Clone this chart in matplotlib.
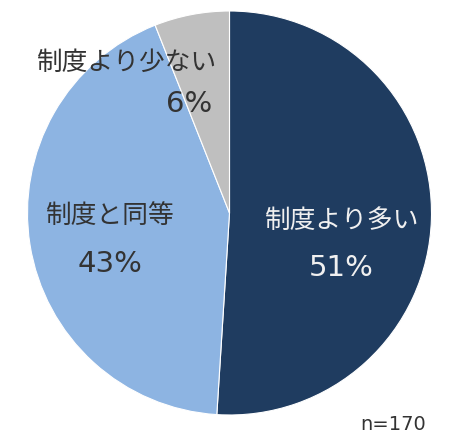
import matplotlib.pyplot as plt

plt.rcParams['font.family'] = ['Noto Sans CJK JP', 'DejaVu Sans']

labels = ["制度より多い", "制度と同等", "制度より少ない"]
shares = [51, 43, 6]
colors = ["#1F3C60", "#8DB4E2", "#BFBFBF"]
text_colors = ["#F0F0F0", "#333333", "#333333"]
sample_note = "n=170"

W, H = 454, 440
fig = plt.figure(figsize=(W / 100, H / 100), dpi=100)
ax = fig.add_axes([0, 0, 1, 1])

cx, cy, r = 229.5, H - 213, 202
ax.pie(shares, colors=colors, startangle=90, counterclock=False,
       center=(cx, cy), radius=r, frame=True,
       wedgeprops=dict(edgecolor="white", linewidth=0.8))
ax.set_xlim(0, W)
ax.set_ylim(0, H)
ax.axis("off")

# label anchor points (name line, percent line), pixel coords from top
label_pos = [((342, 221), (341, 268)),
             ((110, 216), (110, 264)),
             ((127, 63), (189, 104))]
for name, val, tc, (p1, p2) in zip(labels, shares, text_colors, label_pos):
    ax.text(p1[0], H - p1[1], name, ha="center", va="center", fontsize=18.5, color=tc)
    ax.text(p2[0], H - p2[1], f"{val}%", ha="center", va="center", fontsize=21,
            color=tc, family="DejaVu Sans")

ax.text(393, H - 424, sample_note, ha="center", va="center", fontsize=14,
        color="#333333", family="DejaVu Sans")

fig.savefig("out.png", dpi=100, facecolor="white")
